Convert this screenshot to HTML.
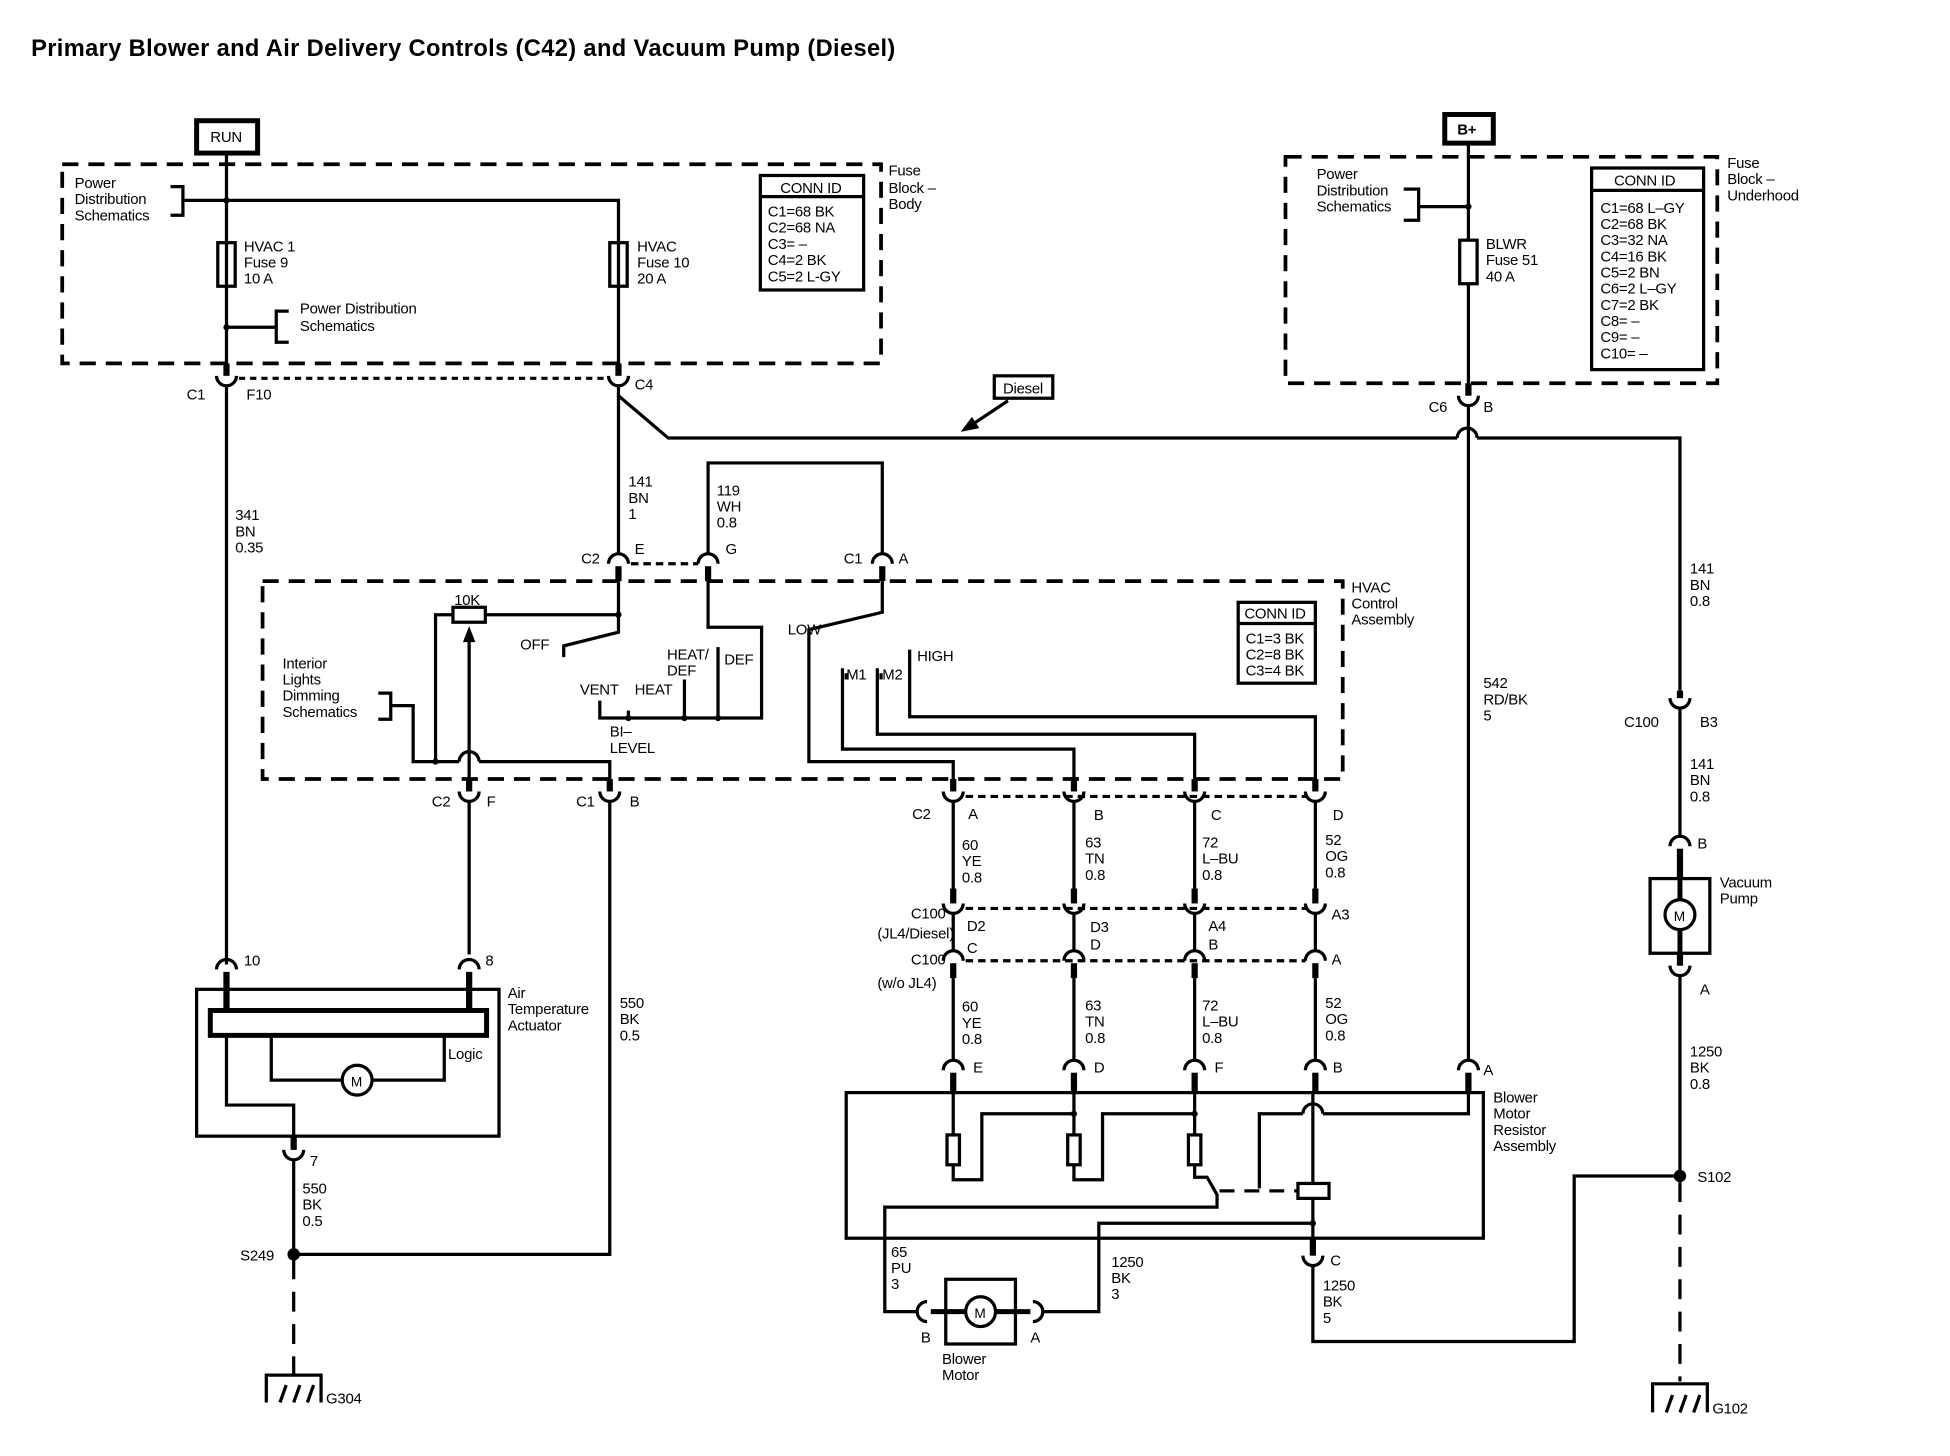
<!DOCTYPE html>
<html><head><meta charset="utf-8"><style>
html,body{margin:0;padding:0;background:#fff;}
svg{display:block;}
text{font-family:"Liberation Sans",Arial,sans-serif;font-size:12px;fill:#000;letter-spacing:-0.2px;}
.b{font-weight:bold;}
</style></head><body>
<svg width="1950" height="1456" viewBox="0 0 1567 1170" xmlns="http://www.w3.org/2000/svg">
<g fill="none" stroke="#000" stroke-width="2.6">
<rect x="50" y="132" width="658" height="160" stroke-dasharray="13,8" stroke-width="3"/>
<rect x="211" y="467" width="868" height="159" stroke-dasharray="13,8" stroke-width="3"/>
<rect x="1033" y="126" width="347" height="182" stroke-dasharray="13,8" stroke-width="3"/>
<rect x="158" y="97" width="49" height="26" stroke-width="4"/>
<rect x="1161" y="92" width="39" height="23" stroke-width="4"/>
<rect x="611" y="141" width="83" height="92"/><line x1="611" y1="158" x2="694" y2="158"/>
<rect x="995" y="484" width="62" height="65"/><line x1="995" y1="501" x2="1057" y2="501"/>
<rect x="1279" y="135" width="90" height="162"/><line x1="1279" y1="153" x2="1369" y2="153"/>
<polyline points="182,124 182,298"/>
<polyline points="182,161 497,161 497,298"/>
<polyline points="137,150 147,150 147,173 137,173"/><line x1="147" y1="161" x2="182" y2="161"/>
<rect x="175" y="195" width="14" height="35" fill="#fff"/><line x1="182" y1="195" x2="182" y2="230"/>
<rect x="490" y="195" width="14" height="35" fill="#fff"/><line x1="497" y1="195" x2="497" y2="230"/>
<line x1="182" y1="263" x2="222" y2="263"/><polyline points="232,250 222,250 222,275 232,275"/>
<line x1="182" y1="292" x2="182" y2="302" stroke-width="5"/>
<path d="M174 302 A8 8 0 0 0 190 302"/>
<line x1="182" y1="310" x2="182" y2="775"/>
<line x1="497" y1="292" x2="497" y2="302" stroke-width="5"/>
<path d="M489 302 A8 8 0 0 0 505 302"/>
<line x1="192" y1="304" x2="489" y2="304" stroke-dasharray="5,4"/>
<polyline points="497,310 497,318 537,352 1171,352"/>
<path d="M1171 352 A8 8 0 0 1 1187 352"/>
<polyline points="1187,352 1350,352 1350,555"/>
<rect x="799" y="302" width="47" height="18"/>
<line x1="810" y1="322" x2="780" y2="342"/>
<line x1="497" y1="318" x2="497" y2="445"/>
<path d="M489 453 A8 8 0 0 1 505 453"/>
<line x1="497" y1="455" x2="497" y2="467" stroke-width="5"/>
<line x1="507" y1="453" x2="561" y2="453" stroke-dasharray="6,4"/>
<path d="M561 453 A8 8 0 0 1 577 453"/>
<line x1="569" y1="455" x2="569" y2="467" stroke-width="5"/>
<polyline points="569,445 569,372 709,372 709,445"/>
<path d="M701 453 A8 8 0 0 1 717 453"/>
<line x1="709" y1="455" x2="709" y2="467" stroke-width="5"/>
<polyline points="497,467 497,494 390,494"/>
<rect x="364" y="488" width="26" height="12" fill="#fff"/>
<polyline points="364,494 350,494 350,612"/>
<polyline points="497,494 497,508 453,519 453,528"/>
<polyline points="569,467 569,504 612,504 612,577 482,577 482,563"/>
<line x1="505" y1="577" x2="505" y2="571"/>
<line x1="550" y1="577" x2="550" y2="546"/>
<line x1="577" y1="577" x2="577" y2="520"/>
<polyline points="304,557 314,557 314,578 304,578"/>
<polyline points="314,567 332,567 332,612 369,612"/>
<path d="M369 612 A8 8 0 0 1 385 612"/>
<polyline points="385,612 490,612 490,634"/>
<line x1="377" y1="508" x2="377" y2="634"/>
<polyline points="709,467 709,492 650,506 650,612 766,612 766,634"/>
<polyline points="677,537 677,602 863,602 863,634"/>
<polyline points="705,537 705,590 960,590 960,634"/>
<polyline points="731,522 731,576 1057,576 1057,634"/>
<line x1="377" y1="626" x2="377" y2="636" stroke-width="5"/><path d="M369 636 A8 8 0 0 0 385 636"/>
<line x1="490" y1="626" x2="490" y2="636" stroke-width="5"/><path d="M482 636 A8 8 0 0 0 498 636"/>
<line x1="377" y1="644" x2="377" y2="767"/>
<polyline points="490,644 490,1008 236,1008"/>
<g id="col">
<line x1="766" y1="626" x2="766" y2="636" stroke-width="5"/><path d="M758 636 A8 8 0 0 0 774 636"/>
<line x1="766" y1="644" x2="766" y2="716"/>
<line x1="766" y1="714" x2="766" y2="726" stroke-width="5"/><path d="M758 726 A8 8 0 0 0 774 726"/>
<line x1="766" y1="734" x2="766" y2="764"/>
<path d="M758 772 A8 8 0 0 1 774 772"/>
<line x1="766" y1="774" x2="766" y2="786" stroke-width="5"/>
<line x1="766" y1="786" x2="766" y2="852"/>
<path d="M758 860 A8 8 0 0 1 774 860"/>
<line x1="766" y1="862" x2="766" y2="878" stroke-width="5"/>
</g>
<use href="#col" x="97"/><use href="#col" x="194"/><use href="#col" x="291"/>
<line x1="776" y1="640" x2="1049" y2="640" stroke-dasharray="6,4"/>
<line x1="776" y1="730" x2="1049" y2="730" stroke-dasharray="6,4"/>
<line x1="776" y1="772" x2="1049" y2="772" stroke-dasharray="6,4"/>
<line x1="1180" y1="116" x2="1180" y2="316"/>
<polyline points="1128,152 1140,152 1140,177 1128,177"/><line x1="1140" y1="166" x2="1180" y2="166"/>
<rect x="1173" y="193" width="14" height="35" fill="#fff"/>
<line x1="1180" y1="308" x2="1180" y2="318" stroke-width="5"/><path d="M1172 318 A8 8 0 0 0 1188 318"/>
<line x1="1180" y1="326" x2="1180" y2="852"/>
<path d="M1172 860 A8 8 0 0 1 1188 860"/>
<line x1="1180" y1="862" x2="1180" y2="878" stroke-width="5"/>
<line x1="1350" y1="555" x2="1350" y2="561" stroke-width="5"/><path d="M1342 561 A8 8 0 0 0 1358 561"/>
<line x1="1350" y1="569" x2="1350" y2="672"/>
<path d="M1342 680 A8 8 0 0 1 1358 680"/>
<line x1="1350" y1="682" x2="1350" y2="706" stroke-width="5"/>
<rect x="1326" y="706" width="48" height="60"/>
<line x1="1350" y1="706" x2="1350" y2="723" stroke-width="4"/><line x1="1350" y1="747" x2="1350" y2="766" stroke-width="4"/>
<circle cx="1350" cy="735" r="12"/>
<line x1="1350" y1="766" x2="1350" y2="776" stroke-width="5"/><path d="M1342 776 A8 8 0 0 0 1358 776"/>
<line x1="1350" y1="784" x2="1350" y2="945"/>
<line x1="1350" y1="950" x2="1350" y2="1110" stroke-dasharray="16,10"/>
<path d="M174 779 A8 8 0 0 1 190 779"/>
<line x1="182" y1="781" x2="182" y2="812" stroke-width="5"/>
<path d="M369 779 A8 8 0 0 1 385 779"/>
<line x1="377" y1="781" x2="377" y2="812" stroke-width="5"/>
<rect x="158" y="795" width="243" height="118"/>
<rect x="169" y="812" width="222" height="20" stroke-width="4"/>
<polyline points="182,832 182,888 236,888 236,924"/>
<polyline points="218,832 218,868 275,868"/><polyline points="299,868 357,868 357,832"/>
<circle cx="287" cy="868" r="12"/>
<line x1="236" y1="913" x2="236" y2="924" stroke-width="5"/><path d="M228 924 A8 8 0 0 0 244 924"/>
<line x1="236" y1="932" x2="236" y2="1008"/>
<line x1="236" y1="1012" x2="236" y2="1105" stroke-dasharray="16,10"/>
<polyline points="214,1127 214,1105 258,1105 258,1127"/>
<line x1="225" y1="1127" x2="230" y2="1113"/><line x1="236" y1="1127" x2="241" y2="1113"/><line x1="247" y1="1127" x2="252" y2="1113"/>
<polyline points="1328,1135 1328,1112 1372,1112 1372,1135"/>
<line x1="1339" y1="1135" x2="1344" y2="1121"/><line x1="1350" y1="1135" x2="1355" y2="1121"/><line x1="1361" y1="1135" x2="1366" y2="1121"/>
<rect x="680" y="878" width="512" height="117"/>
<rect x="761" y="912" width="10" height="24" fill="#fff"/>
<rect x="858" y="912" width="10" height="24" fill="#fff"/>
<rect x="955" y="912" width="10" height="24" fill="#fff"/>
<line x1="766" y1="878" x2="766" y2="912"/><polyline points="766,936 766,948 789,948 789,895 863,895"/>
<line x1="863" y1="878" x2="863" y2="912"/><polyline points="863,936 863,948 886,948 886,895 960,895"/>
<line x1="960" y1="878" x2="960" y2="912"/><polyline points="960,936 960,946 970,946 978,960 978,970 711,970 711,1054 738,1054"/>
<line x1="980" y1="957" x2="1043" y2="957" stroke-dasharray="12,8"/>
<rect x="1043" y="951" width="25" height="12" fill="#fff"/>
<line x1="1055" y1="878" x2="1055" y2="951"/>
<line x1="1055" y1="963" x2="1055" y2="1009"/>
<polyline points="1012,955 1012,895 1047,895"/><path d="M1047 895 A8 8 0 0 1 1063 895"/><polyline points="1063,895 1180,895 1180,878"/>
<polyline points="838,1054 883,1054 883,983 1055,983"/>
<line x1="1055" y1="995" x2="1055" y2="1009" stroke-width="5"/><path d="M1047 1009 A8 8 0 0 0 1063 1009"/>
<polyline points="1055,1017 1055,1078 1265,1078 1265,945 1350,945"/>
<path d="M745 1046 A8 8 0 0 0 745 1062"/><path d="M830 1046 A8 8 0 0 1 830 1062"/>
<rect x="760" y="1028" width="56" height="52"/>
<line x1="748" y1="1054" x2="776" y2="1054" stroke-width="4"/><line x1="800" y1="1054" x2="828" y2="1054" stroke-width="4"/>
<circle cx="788" cy="1054" r="12"/>
<line x1="680" y1="541" x2="680" y2="546" /><line x1="708" y1="541" x2="708" y2="546"/>
</g>
<g fill="#000">
<polygon points="377,503 372,516 382,516"/>
<polygon points="772,347 787,344 781,335"/>
<circle cx="182" cy="161" r="2.5"/><circle cx="182" cy="263" r="2.5"/><circle cx="497" cy="494" r="2.5"/>
<circle cx="350" cy="612" r="2.5"/><circle cx="505" cy="577" r="2.5"/><circle cx="550" cy="577" r="2.5"/><circle cx="577" cy="577" r="2.5"/>
<circle cx="1180" cy="166" r="2.5"/><circle cx="863" cy="895" r="2.5"/><circle cx="960" cy="895" r="2.5"/><circle cx="1055" cy="983" r="2.5"/>
<circle cx="236" cy="1008" r="5"/><circle cx="1350" cy="945" r="5"/>
</g>
<text x="25" y="45" class="b" style="font-size:19px;letter-spacing:0.3px">Primary Blower and Air Delivery Controls (C42) and Vacuum Pump (Diesel)</text>
<text x="169" y="114">RUN</text>
<text x="1171" y="108" class="b">B+</text>
<text x="60" y="151">Power</text><text x="60" y="164">Distribution</text><text x="60" y="177">Schematics</text>
<text x="196" y="202">HVAC 1</text><text x="196" y="215">Fuse 9</text><text x="196" y="228">10 A</text>
<text x="512" y="202">HVAC</text><text x="512" y="215">Fuse 10</text><text x="512" y="228">20 A</text>
<text x="241" y="252">Power Distribution</text><text x="241" y="266">Schematics</text>
<text x="627" y="155">CONN ID</text>
<text x="617" y="174">C1=68 BK</text><text x="617" y="187">C2=68 NA</text><text x="617" y="200">C3= –</text><text x="617" y="213">C4=2 BK</text><text x="617" y="226">C5=2 L-GY</text>
<text x="714" y="141">Fuse</text><text x="714" y="155">Block –</text><text x="714" y="168">Body</text>
<text x="150" y="321">C1</text><text x="198" y="321">F10</text><text x="510" y="313">C4</text>
<text x="806" y="316">Diesel</text>
<text x="189" y="418">341</text><text x="189" y="431">BN</text><text x="189" y="444">0.35</text>
<text x="505" y="391">141</text><text x="505" y="404">BN</text><text x="505" y="417">1</text>
<text x="576" y="398">119</text><text x="576" y="411">WH</text><text x="576" y="424">0.8</text>
<text x="467" y="453">C2</text><text x="510" y="445">E</text><text x="583" y="445">G</text><text x="678" y="453">C1</text><text x="722" y="453">A</text>
<text x="1086" y="476">HVAC</text><text x="1086" y="489">Control</text><text x="1086" y="502">Assembly</text>
<text x="1000" y="497">CONN ID</text><text x="1001" y="517">C1=3 BK</text><text x="1001" y="530">C2=8 BK</text><text x="1001" y="543">C3=4 BK</text>
<text x="365" y="486">10K</text><text x="418" y="522">OFF</text>
<text x="227" y="537">Interior</text><text x="227" y="550">Lights</text><text x="227" y="563">Dimming</text><text x="227" y="576">Schematics</text>
<text x="466" y="558">VENT</text><text x="510" y="558">HEAT</text><text x="536" y="530">HEAT/</text><text x="536" y="543">DEF</text><text x="582" y="534">DEF</text>
<text x="490" y="592">BI–</text><text x="490" y="605">LEVEL</text>
<text x="633" y="510">LOW</text><text x="680" y="546">M1</text><text x="709" y="546">M2</text><text x="737" y="531">HIGH</text>
<text x="347" y="648">C2</text><text x="391" y="648">F</text><text x="463" y="648">C1</text><text x="506" y="648">B</text>
<text x="733" y="658">C2</text><text x="778" y="658">A</text><text x="879" y="659">B</text><text x="973" y="659">C</text><text x="1071" y="659">D</text>
<text x="773" y="683">60</text><text x="773" y="696">YE</text><text x="773" y="709">0.8</text>
<text x="872" y="681">63</text><text x="872" y="694">TN</text><text x="872" y="707">0.8</text>
<text x="966" y="681">72</text><text x="966" y="694">L–BU</text><text x="966" y="707">0.8</text>
<text x="1065" y="679">52</text><text x="1065" y="692">OG</text><text x="1065" y="705">0.8</text>
<text x="732" y="738">C100</text><text x="705" y="754">(JL4/Diesel)</text>
<text x="777" y="748">D2</text><text x="777" y="766">C</text><text x="876" y="749">D3</text><text x="876" y="763">D</text>
<text x="971" y="748">A4</text><text x="971" y="763">B</text><text x="1070" y="739">A3</text>
<text x="732" y="775">C100</text><text x="705" y="794">(w/o JL4)</text><text x="1070" y="775">A</text>
<text x="773" y="813">60</text><text x="773" y="826">YE</text><text x="773" y="839">0.8</text>
<text x="872" y="812">63</text><text x="872" y="825">TN</text><text x="872" y="838">0.8</text>
<text x="966" y="812">72</text><text x="966" y="825">L–BU</text><text x="966" y="838">0.8</text>
<text x="1065" y="810">52</text><text x="1065" y="823">OG</text><text x="1065" y="836">0.8</text>
<text x="782" y="862">E</text><text x="879" y="862">D</text><text x="976" y="862">F</text><text x="1071" y="862">B</text><text x="1192" y="864">A</text>
<text x="1200" y="886">Blower</text><text x="1200" y="899">Motor</text><text x="1200" y="912">Resistor</text><text x="1200" y="925">Assembly</text>
<text x="716" y="1010">65</text><text x="716" y="1023">PU</text><text x="716" y="1036">3</text>
<text x="893" y="1018">1250</text><text x="893" y="1031">BK</text><text x="893" y="1044">3</text>
<text x="1069" y="1017">C</text>
<text x="1063" y="1037">1250</text><text x="1063" y="1050">BK</text><text x="1063" y="1063">5</text>
<text x="740" y="1079">B</text><text x="828" y="1079">A</text>
<text x="757" y="1096">Blower</text><text x="757" y="1109">Motor</text>
<text x="1058" y="144">Power</text><text x="1058" y="157">Distribution</text><text x="1058" y="170">Schematics</text>
<text x="1194" y="200">BLWR</text><text x="1194" y="213">Fuse 51</text><text x="1194" y="226">40 A</text>
<text x="1297" y="149">CONN ID</text>
<text x="1286" y="171">C1=68 L–GY</text><text x="1286" y="184">C2=68 BK</text><text x="1286" y="197">C3=32 NA</text><text x="1286" y="210">C4=16 BK</text><text x="1286" y="223">C5=2 BN</text><text x="1286" y="236">C6=2 L–GY</text><text x="1286" y="249">C7=2 BK</text><text x="1286" y="262">C8= –</text><text x="1286" y="275">C9= –</text><text x="1286" y="288">C10= –</text>
<text x="1388" y="135">Fuse</text><text x="1388" y="148">Block –</text><text x="1388" y="161">Underhood</text>
<text x="1148" y="331">C6</text><text x="1192" y="331">B</text>
<text x="1192" y="553">542</text><text x="1192" y="566">RD/BK</text><text x="1192" y="579">5</text>
<text x="1358" y="461">141</text><text x="1358" y="474">BN</text><text x="1358" y="487">0.8</text>
<text x="1305" y="584">C100</text><text x="1366" y="584">B3</text>
<text x="1358" y="618">141</text><text x="1358" y="631">BN</text><text x="1358" y="644">0.8</text>
<text x="1364" y="682">B</text><text x="1382" y="713">Vacuum</text><text x="1382" y="726">Pump</text>
<text x="1366" y="799">A</text>
<text x="1358" y="849">1250</text><text x="1358" y="862">BK</text><text x="1358" y="875">0.8</text>
<text x="1364" y="950">S102</text><text x="1376" y="1136">G102</text>
<text x="196" y="776">10</text><text x="390" y="776">8</text>
<text x="408" y="802">Air</text><text x="408" y="815">Temperature</text><text x="408" y="828">Actuator</text>
<text x="360" y="851">Logic</text>
<text x="282" y="873" style="font-size:11px">M</text><text x="1345" y="740" style="font-size:11px">M</text><text x="783" y="1059" style="font-size:11px">M</text>
<text x="498" y="810">550</text><text x="498" y="823">BK</text><text x="498" y="836">0.5</text>
<text x="249" y="937">7</text>
<text x="243" y="959">550</text><text x="243" y="972">BK</text><text x="243" y="985">0.5</text>
<text x="193" y="1013">S249</text><text x="262" y="1128">G304</text>
</svg>
</body></html>
